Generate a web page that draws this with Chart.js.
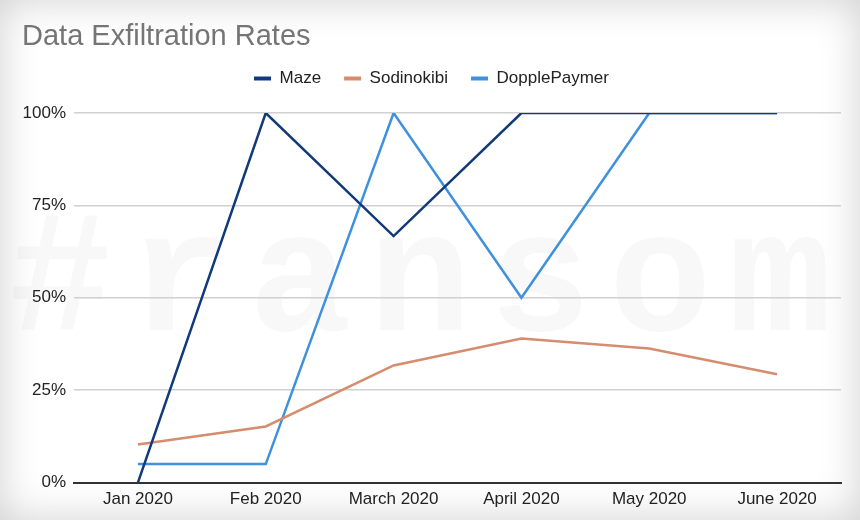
<!DOCTYPE html>
<html lang="en">
<head>
    <meta charset="UTF-8">
    <title>Data Exfiltration Rates</title>
    <script src="https://cdn.jsdelivr.net/npm/chart.js"></script>
</head>
<style>
    html, body {
        margin: 0;
        padding: 0;
        background: #fff;
    }

    .frame {
        position: relative;
        width: 860px;
        height: 520px;
        background: #fff;
        box-shadow: inset 0 0 40px rgba(0, 0, 0, 0.19);
    }
</style>
<body>
    <div class="frame">
        <canvas id="exfilChart" width="860" height="520"></canvas>
    </div>

    <script>
        // chart data
        var months = ['Jan 2020', 'Feb 2020', 'March 2020', 'April 2020', 'May 2020', 'June 2020'];
        var mazeRates = [0, 100, 66.7, 100, 100, 100];
        var sodinokibiRates = [10.3, 15.2, 31.7, 39, 36.3, 29.3];
        var doppleRates = [5, 5, 100, 50, 100, 100];
        var yTicks = [0, 25, 50, 75, 100];

        // faint "#ransom" watermark behind the lines
        var watermark = {
            id: 'watermark',
            beforeDraw: function(chart) {
                var c = chart.ctx;
                var chars = '#ransom'.split('');
                c.save();
                c.font = 'bold 172px "Liberation Mono", monospace';
                c.fillStyle = 'rgba(0, 0, 0, 0.028)';
                c.textAlign = 'center';
                c.textBaseline = 'alphabetic';
                chars.forEach(function(ch, i) {
                    c.fillText(ch, 60 + i * 120, 330);
                });
                c.restore();
            }
        };

        // extra room between legend and plot
        var legendGap = {
            id: 'legendGap',
            beforeInit: function(chart) {
                var origFit = chart.legend.fit;
                chart.legend.fit = function() {
                    origFit.bind(chart.legend)();
                    this.height += 16;
                };
            }
        };

        var ctx = document.getElementById('exfilChart').getContext('2d');
        var exfilChart = new Chart(ctx, {
            type: 'line',
            data: {
                labels: months,
                datasets: [{
                    label: 'Maze',
                    data: mazeRates,
                    borderColor: '#123a7a',
                    backgroundColor: '#123a7a'
                }, {
                    label: 'Sodinokibi',
                    data: sodinokibiRates,
                    borderColor: '#d68c6f',
                    backgroundColor: '#d68c6f'
                }, {
                    label: 'DopplePaymer',
                    data: doppleRates,
                    borderColor: '#3f91dd',
                    backgroundColor: '#3f91dd'
                }]
            },
            options: {
                responsive: false,
                animation: false,
                layout: {
                    padding: { left: 22, right: 19, top: 22, bottom: 3 }
                },
                elements: {
                    line: { borderWidth: 2.5, tension: 0 },
                    point: { radius: 0, hoverRadius: 0 }
                },
                plugins: {
                    title: {
                        display: true,
                        text: 'Data Exfiltration Rates',
                        align: 'start',
                        color: '#757575',
                        font: { family: 'Liberation Sans, Arial', size: 29, weight: 'normal', lineHeight: 1 },
                        padding: { top: 0, bottom: -4 }
                    },
                    legend: {
                        labels: {
                            color: '#222',
                            font: { family: 'Liberation Sans, Arial', size: 17 },
                            boxWidth: 17,
                            boxHeight: 4,
                            padding: 23,
                            generateLabels: function(chart) {
                                var items = Chart.defaults.plugins.legend.labels.generateLabels(chart);
                                items.forEach(function(it) { it.lineWidth = 0; });
                                return items;
                            }
                        }
                    },
                    tooltip: { enabled: false }
                },
                scales: {
                    x: {
                        offset: true,
                        grid: { display: false, drawTicks: false },
                        border: { color: '#333', width: 2 },
                        ticks: {
                            color: '#222',
                            padding: 7,
                            font: { family: 'Liberation Sans, Arial', size: 17 }
                        }
                    },
                    y: {
                        min: 0,
                        max: 100,
                        afterFit: function(scale) { scale.width = 52; },
                        afterBuildTicks: function(scale) {
                            scale.ticks = yTicks.map(function(v) { return { value: v }; });
                        },
                        border: { display: false },
                        grid: {
                            color: function(c) { return c.tick.value === 0 ? 'rgba(0,0,0,0)' : '#d0d0d0'; },
                            lineWidth: 1.5,
                            drawTicks: false
                        },
                        ticks: {
                            color: '#222',
                            padding: 8,
                            font: { family: 'Liberation Sans, Arial', size: 17 },
                            callback: function(v) { return v + '%'; }
                        }
                    }
                }
            },
            plugins: [watermark, legendGap]
        });
    </script>
</body>
</html>
